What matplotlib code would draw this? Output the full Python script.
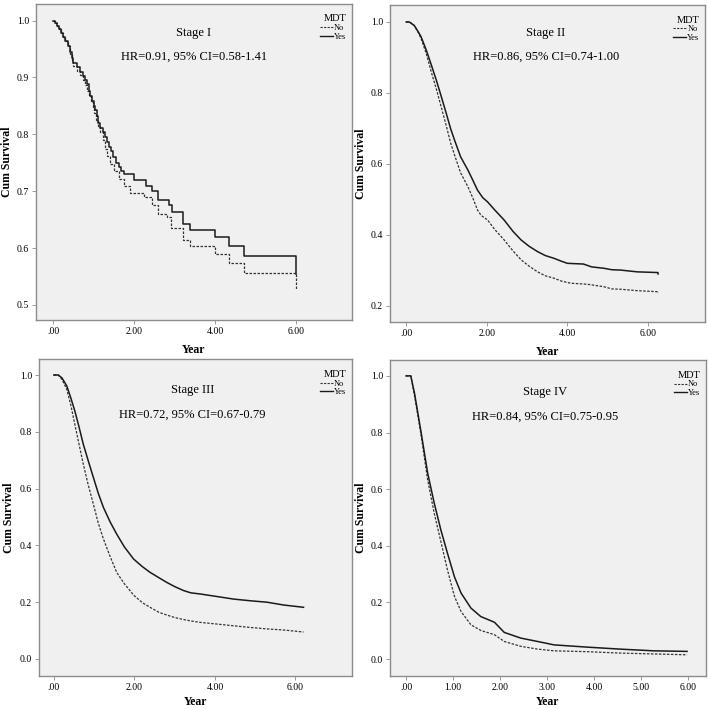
import matplotlib
matplotlib.use("Agg")
from matplotlib import pyplot as plt
from matplotlib.lines import Line2D

plt.rcParams["font.family"] = ["Liberation Serif", "DejaVu Serif"]

# =========================
# DANE
# =========================
stage_names = ["Stage I", "Stage II", "Stage III", "Stage IV"]
hr_texts = ["HR=0.91, 95% CI=0.58-1.41", "HR=0.86, 95% CI=0.74-1.00",
            "HR=0.72, 95% CI=0.67-0.79", "HR=0.84, 95% CI=0.75-0.95"]

# Stage I (krzywe schodkowe)
s1_yes_t = [0.0, 0.05, 0.1, 0.15, 0.2, 0.25, 0.3, 0.36, 0.42, 0.46, 0.5, 0.58, 0.67, 0.73, 0.79, 0.84,
            0.88, 0.91, 0.96, 1.0, 1.04, 1.08, 1.12, 1.17, 1.22, 1.28, 1.33, 1.38, 1.42, 1.49, 1.55,
            1.62, 1.68, 1.74, 1.99, 2.3, 2.44, 2.6, 2.86, 2.94, 3.21, 3.39, 4.01, 4.34, 4.71, 6.0]
s1_yes_s = [1.0, 0.996, 0.99, 0.985, 0.978, 0.971, 0.964, 0.955, 0.944, 0.935, 0.925, 0.918, 0.91, 0.903, 0.896, 0.888,
            0.877, 0.867, 0.858, 0.85, 0.843, 0.832, 0.82, 0.812, 0.804, 0.796, 0.787, 0.778, 0.77, 0.761, 0.75,
            0.742, 0.736, 0.73, 0.72, 0.71, 0.70, 0.685, 0.675, 0.663, 0.642, 0.632, 0.62, 0.603, 0.586, 0.555]
s1_no_t = [0.0, 0.05, 0.1, 0.15, 0.2, 0.25, 0.3, 0.36, 0.42, 0.46, 0.5, 0.58, 0.67, 0.73, 0.79, 0.84,
           0.88, 0.93, 0.98, 1.02, 1.07, 1.12, 1.17, 1.22, 1.28, 1.33, 1.4, 1.5, 1.62, 1.74, 1.9, 2.24,
           2.44, 2.6, 2.81, 2.9, 3.21, 3.39, 4.01, 4.34, 4.71, 6.0]
s1_no_s = [1.0, 0.996, 0.99, 0.985, 0.978, 0.971, 0.964, 0.955, 0.942, 0.93, 0.92, 0.912, 0.904, 0.895, 0.887, 0.877,
           0.867, 0.857, 0.847, 0.837, 0.826, 0.815, 0.805, 0.79, 0.775, 0.762, 0.748, 0.735, 0.722, 0.71, 0.697, 0.69,
           0.675, 0.66, 0.655, 0.635, 0.615, 0.603, 0.59, 0.573, 0.556, 0.526]

# Stage II
s2_yes_t = [0.0, 0.08, 0.2, 0.3, 0.37, 0.5, 0.62, 0.75, 0.87, 1.0, 1.1, 1.2, 1.35, 1.53, 1.65, 1.77, 1.9,
            2.02, 2.2, 2.43, 2.65, 2.85, 3.05, 3.26, 3.45, 3.67, 3.85, 4.0, 4.4, 4.6, 4.91, 5.1, 5.32,
            5.73, 6.25, 6.25]
s2_yes_s = [1.0, 1.0, 0.99, 0.972, 0.958, 0.92, 0.88, 0.835, 0.79, 0.74, 0.70, 0.667, 0.62, 0.583, 0.555, 0.526, 0.505,
            0.493, 0.47, 0.442, 0.41, 0.386, 0.368, 0.353, 0.342, 0.334, 0.326, 0.32, 0.318, 0.31, 0.306, 0.302, 0.301,
            0.296, 0.294, 0.29]
s2_no_t = [0.0, 0.08, 0.2, 0.3, 0.37, 0.5, 0.62, 0.75, 0.87, 1.0, 1.1, 1.2, 1.35, 1.53, 1.65, 1.77, 1.86,
           2.02, 2.2, 2.43, 2.65, 2.85, 3.05, 3.26, 3.45, 3.67, 3.85, 4.08, 4.5, 4.91, 5.1, 5.32,
           5.73, 6.25, 6.25]
s2_no_s = [1.0, 1.0, 0.99, 0.97, 0.953, 0.91, 0.86, 0.81, 0.76, 0.705, 0.66, 0.625, 0.575, 0.536, 0.505, 0.47, 0.455,
           0.442, 0.415, 0.386, 0.355, 0.33, 0.312, 0.296, 0.285, 0.278, 0.27, 0.264, 0.261, 0.254, 0.248, 0.247,
           0.243, 0.24, 0.236]

# Stage III
s3_yes_t = [0.0, 0.11, 0.2, 0.32, 0.42, 0.52, 0.62, 0.73, 0.85, 0.98, 1.1, 1.23, 1.4, 1.56, 1.75, 1.98, 2.2,
            2.39, 2.6, 2.8, 3.0, 3.22, 3.4, 3.63, 4.05, 4.46, 4.88, 5.29, 5.71, 6.2]
s3_yes_s = [1.0, 1.0, 0.99, 0.962, 0.92, 0.874, 0.82, 0.757, 0.70, 0.64, 0.585, 0.534, 0.482, 0.44, 0.395, 0.352, 0.325,
            0.305, 0.287, 0.27, 0.255, 0.241, 0.233, 0.229, 0.22, 0.211, 0.205, 0.2, 0.19, 0.182]
s3_no_t = [0.0, 0.11, 0.2, 0.32, 0.42, 0.52, 0.62, 0.73, 0.85, 0.98, 1.1, 1.23, 1.4, 1.56, 1.75, 1.98, 2.2,
           2.39, 2.6, 2.8, 3.0, 3.22, 3.4, 3.63, 4.05, 4.46, 4.88, 5.29, 5.71, 6.2]
s3_no_s = [1.0, 1.0, 0.985, 0.95, 0.895, 0.827, 0.76, 0.687, 0.615, 0.546, 0.48, 0.423, 0.36, 0.305, 0.265, 0.225, 0.198,
           0.182, 0.165, 0.155, 0.146, 0.139, 0.134, 0.129, 0.123, 0.117, 0.111, 0.106, 0.102, 0.095]

# Stage IV
s4_yes_t = [0.0, 0.1, 0.18, 0.32, 0.46, 0.6, 0.74, 0.88, 1.03, 1.17, 1.38, 1.59, 1.88, 2.09, 2.44, 2.8, 3.15, 3.86, 4.56, 5.27, 5.98]
s4_yes_s = [1.0, 1.0, 0.938, 0.80, 0.656, 0.55, 0.456, 0.374, 0.29, 0.233, 0.18, 0.15, 0.13, 0.094, 0.074, 0.062, 0.05, 0.042, 0.035, 0.029, 0.027]
s4_no_t = [0.0, 0.1, 0.18, 0.32, 0.46, 0.6, 0.74, 0.88, 1.03, 1.17, 1.38, 1.59, 1.88, 2.09, 2.44, 2.8, 3.15, 3.86, 4.56, 5.27, 5.98]
s4_no_s = [1.0, 1.0, 0.93, 0.79, 0.632, 0.514, 0.415, 0.315, 0.221, 0.168, 0.121, 0.101, 0.086, 0.062, 0.045, 0.035, 0.029, 0.026, 0.021, 0.018, 0.015]

yes_t = [s1_yes_t, s2_yes_t, s3_yes_t, s4_yes_t]
yes_s = [s1_yes_s, s2_yes_s, s3_yes_s, s4_yes_s]
no_t = [s1_no_t, s2_no_t, s3_no_t, s4_no_t]
no_s = [s1_no_s, s2_no_s, s3_no_s, s4_no_s]

# =========================
# UKŁAD
# =========================
positions = [
    [0.051, 0.549, 0.446, 0.446],
    [0.551, 0.546, 0.445, 0.447],
    [0.055, 0.0465, 0.442, 0.447],
    [0.551, 0.0465, 0.446, 0.4457],
]
xlims = [(-0.42, 7.38), (-0.4, 7.42), (-0.37, 7.4), (-0.34, 6.38)]
ylims = [(0.474, 1.03), (0.155, 1.048), (-0.06, 1.056), (-0.06, 1.056)]
yticks = [[0.5, 0.6, 0.7, 0.8, 0.9, 1.0], [0.2, 0.4, 0.6, 0.8, 1.0],
          [0.0, 0.2, 0.4, 0.6, 0.8, 1.0], [0.0, 0.2, 0.4, 0.6, 0.8, 1.0]]
xticks = [[0, 2, 4, 6], [0, 2, 4, 6], [0, 2, 4, 6], [0, 1, 2, 3, 4, 5, 6]]
text_pos = [(0.5, 0.908, 0.832), (0.495, 0.912, 0.836), (0.49, 0.902, 0.826), (0.49, 0.90, 0.82)]
xlabel_pad = [6, 6, 3, 3]

frame_col = "#8c8c8c"
line_col = "#1a1a1a"

fig = plt.figure(figsize=(7.08, 7.09), dpi=100)

for i in range(4):
    ax = fig.add_axes(positions[i])
    ax.set_facecolor("#f0f0f0")

    style = "steps-post" if i == 0 else "default"
    ax.plot(no_t[i], no_s[i], color="#333333", lw=0.9, ls=(0, (2, 1.2)), drawstyle=style)
    ax.plot(yes_t[i], yes_s[i], color=line_col, lw=1.1, drawstyle=style)

    ax.set_xlim(*xlims[i])
    ax.set_ylim(*ylims[i])
    ax.set_yticks(yticks[i])
    ax.set_yticklabels([f"{v:.1f}" for v in yticks[i]], fontsize=7)
    ax.set_xticks(xticks[i])
    ax.set_xticklabels([".00" if v == 0 else f"{v:.2f}" for v in xticks[i]], fontsize=7)
    ax.tick_params(length=3, width=0.6, color=frame_col, pad=2)

    for sp in ax.spines.values():
        sp.set_color(frame_col)
        sp.set_linewidth(1.0)

    ax.set_xlabel("Year", fontsize=8.5, fontweight="bold", labelpad=xlabel_pad[i])
    ax.set_ylabel("Cum Survival", fontsize=8.5, fontweight="bold", labelpad=3)

    tx, ty1, ty2 = text_pos[i]
    ax.text(tx, ty1, stage_names[i], transform=ax.transAxes, ha="center", va="center", fontsize=9)
    ax.text(tx, ty2, hr_texts[i], transform=ax.transAxes, ha="center", va="center", fontsize=9)

    handles = [Line2D([], [], color="#333333", lw=0.8, ls=(0, (2, 1.2))),
               Line2D([], [], color=line_col, lw=1.0)]
    leg = ax.legend(handles, ["No", "Yes"], title="MDT", loc="upper right",
                    bbox_to_anchor=(1.0, 0.985), frameon=False, fontsize=6,
                    title_fontsize=7.5, handlelength=1.6, handletextpad=0.1,
                    labelspacing=0.1, borderaxespad=0.3)
    leg._legend_box.align = "right"

plt.savefig("out.png", dpi=100)
plt.close()
